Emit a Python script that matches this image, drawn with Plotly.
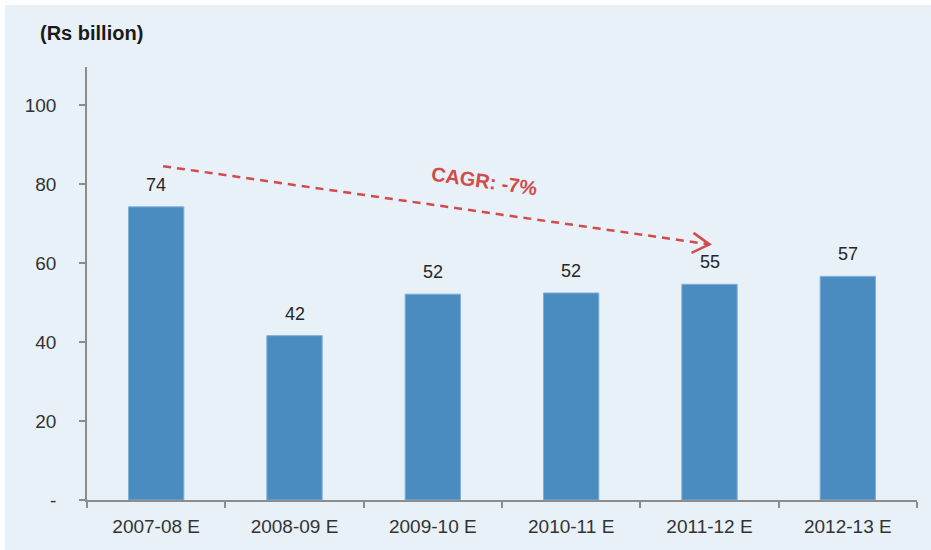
import plotly.graph_objects as go

categories = ["2007-08 E", "2008-09 E", "2009-10 E", "2010-11 E", "2011-12 E", "2012-13 E"]
values = [74.2, 41.6, 52.1, 52.4, 54.6, 56.6]
labels = ["74", "42", "52", "52", "55", "57"]
y_tickvals = [0, 20, 40, 60, 80, 100]
y_ticktext = ["-", "20", "40", "60", "80", "100"]
cagr_text = "CAGR: -7%"
# arrow start/end in (category index, value) units
arrow_x = [0.05, 4.0]
arrow_y = [84.5, 64.7]

FONT = "Liberation Sans, Arial, sans-serif"
BG = "#E8F0F8"
RED = "#D24B4B"

fig = go.Figure()
fig.add_trace(go.Bar(
    x=categories, y=values,
    marker=dict(color="#4A8BC0", line=dict(color="#7FAED6", width=1)),
    width=0.4,
    hoverinfo="skip",
))

for c, v, t in zip(categories, values, labels):
    fig.add_annotation(x=c, y=v, text=t, showarrow=False, yanchor="middle", yshift=22,
                       font=dict(family=FONT, size=18, color="#262626"))

# background panel with white edge strip
fig.add_shape(type="rect", xref="paper", yref="paper",
              x0=(5 - 87) / 830, x1=(940 - 87) / 830,
              y0=(500 - 560) / 433, y1=(500 - 5) / 433,
              fillcolor=BG, line=dict(width=0), layer="below")

# dashed CAGR arrow
fig.add_shape(type="line", xref="x", yref="y",
              x0=arrow_x[0], y0=arrow_y[0], x1=arrow_x[1], y1=arrow_y[1],
              line=dict(color=RED, width=2.5, dash="8px,6px"))
fig.add_shape(type="path", xref="x", yref="y", xsizemode="pixel", ysizemode="pixel",
              xanchor=arrow_x[1], yanchor=arrow_y[1],
              path="M -16,11.5 L 0,0 L -18,-8.5",
              line=dict(color=RED, width=2.5))

fig.add_annotation(x=2.37, y=80.8, xref="x", yref="y", text="<b>" + cagr_text + "</b>",
                   showarrow=False, textangle=8,
                   font=dict(family=FONT, size=20, color=RED))

fig.add_annotation(x=(38 - 87) / 830, y=(500 - 33) / 433, xref="paper", yref="paper",
                   text="<b>(Rs billion)</b>",
                   showarrow=False, xanchor="left", yanchor="middle",
                   font=dict(family=FONT, size=20, color="#1a1a1a"))

fig.update_layout(
    width=931, height=550,
    margin=dict(l=87, r=14, t=67, b=50),
    paper_bgcolor="white",
    plot_bgcolor="rgba(0,0,0,0)",
    showlegend=False,
    bargap=0.6,
    font=dict(family=FONT, size=19, color="#333333"),
    xaxis=dict(
        type="category",
        showgrid=False, zeroline=False,
        showline=True, linecolor="#8C8C8C", linewidth=1.5,
        ticks="outside", tickson="boundaries", ticklen=6, tickcolor="#8C8C8C", tickwidth=1.5,
        tickfont=dict(family=FONT, size=19, color="#333333"),
        ticklabelstandoff=8,
        range=[-0.5, 5.5],
    ),
    yaxis=dict(
        range=[0, 109.6],
        showgrid=False, zeroline=False,
        showline=True, linecolor="#8C8C8C", linewidth=1.5,
        ticks="outside", ticklen=6, tickcolor="#8C8C8C", tickwidth=1.5,
        tickvals=y_tickvals, ticktext=y_ticktext,
        tickfont=dict(family=FONT, size=19, color="#333333"),
        ticklabelstandoff=19,
    ),
)

fig.write_html("out.html", config={"displayModeBar": False},
               post_script="document.body.style.margin='0';document.body.style.padding='0';")
